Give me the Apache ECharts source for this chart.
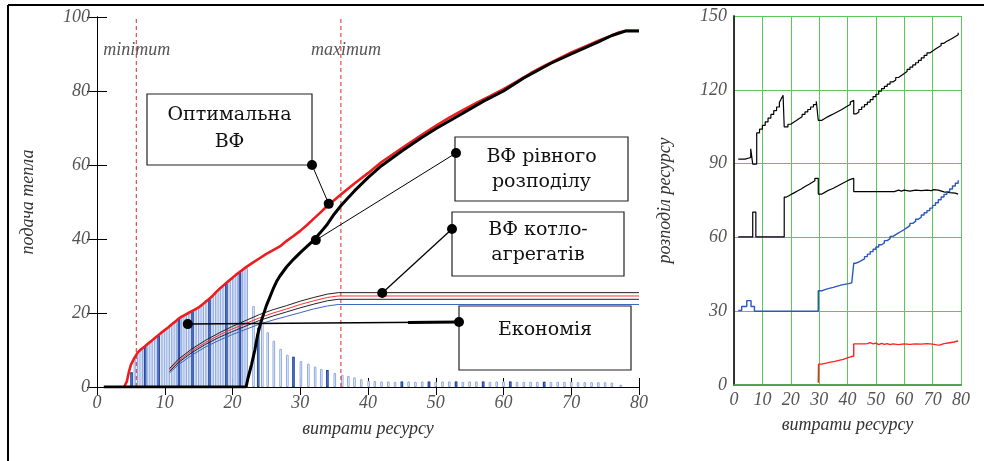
<!DOCTYPE html>
<html>
<head>
<meta charset="utf-8">
<script src="https://cdn.jsdelivr.net/npm/echarts@6.0.0/dist/echarts.min.js"></script>
<style>
html,body{margin:0;padding:0;background:#fff;}
#chart{width:984px;height:461px;}
</style>
</head>
<body>
<div id="chart"></div>
<script>
// ---- left chart: подача тепла vs витрати ресурсу ----
var optimalVF = [[4,0],[4.4,1.5],[4.7,4],[5,6],[5.5,7.8],[6,9.3],[6.5,10.2],[7,10.9],[7.5,11.7],[8,12.4],[8.5,13.2],[9,13.9],[9.5,14.7],[10,15.4],[10.5,16.1],[11,16.9],[11.5,17.6],[12,18.4],[12.5,19],[13,19.5],[13.5,20],[14,20.5],[14.5,21],[15,21.5],[15.5,22.2],[16,23],[16.5,23.7],[17,24.5],[17.5,25.5],[18,26.4],[18.5,27.2],[19,28],[19.5,28.8],[20,29.5],[20.5,30.3],[21,31],[21.5,31.7],[22,32.4],[23,33.6],[24,34.8],[25,36],[26,37],[27,38],[28,39.5],[29,40.8],[30,42.2],[31,43.8],[32,45.5],[33,47.2],[34,49],[35,50.5],[36,52],[37,53.5],[38,55],[40,57.8],[42,60.8],[44,63.3],[46,65.8],[48,68.2],[50,70.6],[52,72.8],[54,74.8],[56,76.8],[58,78.6],[60,80.5],[62,82.6],[64,84.8],[66,86.8],[68,88.6],[70,90.4],[72,92],[74,93.6],[76,95],[77,95.8],[78,96.3],[80,96.3]];
var equalVF = [[1,0],[22,0],[22.3,2.5],[22.8,6],[23.3,10],[23.7,14],[24.2,17.6],[25,22],[26,26.5],[26.5,28.5],[27,30],[28,32.5],[29,34.5],[30,36.3],[31,38],[32,39.7],[33,41.8],[34,44],[35,46.7],[36,49],[37,51],[38,53],[40,56.6],[42,59.8],[45,63.8],[48,67.5],[50,69.8],[54,74],[57,77.2],[60,80],[63,83.5],[67,87.5],[70,90],[74,93.3],[76,95],[78,96.2],[80,96.2]];
var aggBlack1 = [[10.7,5],[12,7.5],[14,10.3],[16,12.6],[18,14.6],[20,16.4],[22,18],[24,19.6],[26,20.9],[28,22],[30,23.2],[32,24.2],[34,25.1],[35.6,25.5],[80,25.5]];
var aggRed = [[10.7,4.6],[12,7],[14,9.8],[16,12],[18,14],[20,15.7],[22,17.2],[24,18.7],[26,20],[28,21.1],[30,22.3],[32,23.3],[34,24.2],[35.6,24.6],[80,24.6]];
var aggBlack2 = [[10.7,4.2],[12,6.6],[14,9.3],[16,11.5],[18,13.4],[20,15],[22,16.5],[24,18],[26,19.2],[28,20.3],[30,21.4],[32,22.4],[34,23.3],[35.6,23.7],[80,23.7]];
var aggBlue = [[10.7,3.8],[12,6],[14,8.6],[16,10.8],[18,12.6],[20,14.2],[22,15.6],[24,17],[26,18.1],[28,19.1],[30,20.1],[32,21.1],[34,21.9],[35.6,22.3],[80,22.3]];
var barsLight = [[5.1,4],[5.6,8],[6.1,9.4],[6.6,10.3],[7.1,11],[7.6,11.8],[8.1,12.5],[8.6,13.3],[9.1,14],[9.6,14.8],[10.1,15.5],[10.6,16.2],[11.1,17],[11.6,17.7],[12.1,18.5],[12.6,19],[13.1,19.5],[13.6,20],[14.1,20.5],[14.6,21],[15.1,21.5],[15.6,22.2],[16.1,23],[16.6,23.7],[17.1,24.5],[17.6,25.5],[18.1,26.4],[18.6,27.2],[19.1,28],[19.6,28.8],[20.1,29.5],[20.6,30.3],[21.1,31],[21.6,31.7],[22.1,32.2],
  [23.1,21.9],[24.4,18],[25.2,14.8],[26.1,12.5],[27.1,10.3],[28.1,8.7],[29,8.2],[30.1,7],[31.2,6.3],[32.2,5.5],[33.1,4.9],[34,4.6],[35.1,3.8],[36.2,3.3],[37.1,3],[38,2.6],[39,2.1],[40.1,1.7],[41,1.6],
  [42,1.5],[43,1.5],[44,1.4],[45,1.5],[46,1.5],[47,1.4],[48,1.5],[49,1.5],[50,1.4],[51,1.5],[52,1.5],[53,1.5],[54,1.4],[55,1.5],[56,1.5],[57,1.5],[58,1.4],[59,1.5],[60,1.5],[61,1.5],[62,1.4],[63,1.4],[64,1.4],[65,1.4],[66,1.4],[67,1.4],[68,1.4],[69,1.4],[70,1.4],[71,1.3],[72,1.3],[73,1.3],[74,1.3],[75,1.3],[76,1.2],[77.3,0.6]];
var barsDark = [[5.1,4],[7.1,11],[9.1,14],[12.1,18.5],[14.1,20.5],[16.6,23.7],[19.1,28],[21.1,31],[23.8,16],[29,8.2],[34,4.6],[45,1.5],[49,1.5],[53,1.5],[57,1.5],[61,1.5],[66,1.4]];
// minimum / maximum markers
var minimumLine = [[5.8,0],[5.8,100]];
var maximumLine = [[36,0],[36,100]];
// label anchors on curves (data coords)
var dotOptimal = [34.2, 49.5];
var dotEqual = [32.3, 39.7];
var dotAgg = [42.1, 25.4];
var dotEconomy = [13.4, 17];

// ---- right chart: розподіл ресурсу ----
var distTop = [[1.5,91.8],[3.9,92.5],[5.9,96],[6.6,89.8],[8,102.5],[9,104],[10,105.5],[11,107],[12,108.5],[13,110],[14,111.5],[15,113],[16,114.8],[16.7,116.5],[17.3,117.8],[17.7,104.9],[19,106],[20,106.8],[21,107.5],[22,108.3],[23,109],[24,110],[25,111],[26,112],[27,113],[28,114],[29,115.3],[29.7,107.6],[31,108.3],[32,109],[33,109.6],[34,110.2],[35,110.8],[36,111.4],[37,112],[38,112.7],[39,113.4],[40,114],[41,115],[41.7,115.7],[42.2,110.2],[43,111],[44,112],[45,113],[46,114],[47,115],[48,116],[49,117.2],[50,118.2],[51,119.5],[52,120.5],[53,121.4],[54,122.3],[55,123.2],[56,124],[57,125],[58,125.8],[59,126.6],[60,127.4],[61,128.3],[62,129.2],[63,130.1],[64,131],[65,132],[66,133],[67,134],[68,135],[69,135.8],[70,136.6],[71,137.3],[72,138],[73,138.9],[74,139.7],[75,140.3],[76,141],[77,141.7],[78,142.4],[79,143.2]];
var distMid = [[1.5,60.2],[6.6,70.3],[7.7,60.2],[17.7,76.4],[18.5,77],[19.5,77.7],[20.5,78.3],[21.5,79],[22.5,79.6],[23.5,80.3],[24.5,81],[25.5,81.6],[26.5,82.3],[27.5,83],[28.5,84],[29.7,77.6],[31,78.3],[32,79],[33,79.5],[34,80],[35,80.6],[36,81.2],[37,81.8],[38,82.4],[39,83],[40,83.6],[41,84],[42.2,78.6],[56.5,78.6],[57.2,79.2],[58,78.8],[59,79.2],[60,79],[61,78.8],[62,79.2],[64,79],[66,79.2],[68,79],[69.5,79.4],[70.5,79.2],[72,78.5],[74,78.2],[76,78],[78,77.6],[79,77.6]];
var distBlue = [[1.5,30.3],[2.7,31.9],[4.5,34.3],[6,31.9],[7.2,30],[29.7,38.3],[31,38.8],[32,39.3],[33.5,39.7],[35,40.2],[36.5,40.7],[38,41],[39.5,41.2],[40.5,41.5],[41.5,42],[42.2,49.5],[43,50],[44,50.7],[45,51.3],[46,52.2],[47,53.2],[48,54.2],[49,55.2],[50,56.1],[51,57],[52,57.8],[53,58.7],[54,59.5],[55,60.4],[56,61.1],[57,61.8],[58,62.5],[59,63.2],[60,64],[61,64.8],[62,65.7],[63,66.5],[64,67.4],[65,68.2],[66,69.1],[67,70],[68,70.9],[69,71.9],[70,73],[71,74.1],[72,75.3],[73,76.4],[74,77.5],[75,78.6],[76,79.7],[77,80.9],[78,82],[79,83.2]];
var distRed = [[29.7,0.9],[29.8,8.5],[31,8.9],[32.5,9.3],[34,9.6],[35.5,10],[37,10.4],[38.5,11],[40,11.5],[41.3,11.8],[42.2,16.7],[46,16.8],[47,17.2],[48,16.7],[49,17],[50,16.4],[51,16.9],[52,16.5],[53,16.8],[54,16.4],[55,16.7],[56,16.4],[58,16.7],[60,16.5],[62,16.7],[64,16.6],[66,16.8],[68,16.6],[70,16.3],[71.5,16.2],[72.5,16.8],[74,17.2],[76,17.5],[77.5,17.9],[79,17.7]];

var labelFont = {fontFamily: 'Liberation Serif', fontStyle: 'italic', fontSize: 18, color: '#555'};
var nameFont = {fontFamily: 'Liberation Serif', fontStyle: 'italic', fontSize: 18, color: '#333'};
var green = '#5cc85c';

var chartDom = document.getElementById('chart');
var myChart = echarts.init(chartDom);

function lineSeries(data, color, width, xi, yi, step){
  return {type: 'line', data: data, xAxisIndex: xi, yAxisIndex: yi, showSymbol: false, symbol: 'none',
    step: step || false, lineStyle: {color: color, width: width}, z: 3, silent: true};
}
function dashSeries(data){
  return {type: 'line', data: data, xAxisIndex: 0, yAxisIndex: 0, showSymbol: false, symbol: 'none', z: 2, silent: true,
    lineStyle: {color: '#e02828', width: 1, type: [4, 3]}};
}

option = {
  animation: false,
  backgroundColor: '#fff',
  grid: [
    {left: 97, top: 17, width: 542, height: 370},
    {left: 734, top: 16, width: 227, height: 369}
  ],
  xAxis: [
    {gridIndex: 0, type: 'value', min: 0, max: 80, interval: 10, position: 'bottom',
      axisLine: {lineStyle: {color: '#000', width: 1}}, axisTick: {inside: true, length: 9, lineStyle: {color: '#000'}},
      axisLabel: Object.assign({margin: 7}, labelFont), splitLine: {show: false},
      name: 'витрати ресурсу', nameLocation: 'middle', nameGap: 33, nameTextStyle: nameFont},
    {gridIndex: 0, type: 'value', min: 0, max: 80, interval: 10, position: 'top',
      axisLine: {lineStyle: {color: '#000', width: 1}}, axisTick: {inside: true, length: 8, lineStyle: {color: '#000'}},
      axisLabel: {show: false}, splitLine: {show: false}},
    {gridIndex: 1, type: 'value', min: 0, max: 80, interval: 10, position: 'bottom',
      axisLine: {lineStyle: {color: '#000', width: 1.5}}, axisTick: {show: false},
      axisLabel: Object.assign({margin: 6}, labelFont), splitLine: {show: true, lineStyle: {color: green, width: 1}},
      name: 'витрати ресурсу', nameLocation: 'middle', nameGap: 31, nameTextStyle: nameFont},
    {gridIndex: 1, type: 'value', min: 0, max: 80, interval: 10, position: 'top',
      axisLine: {lineStyle: {color: green, width: 1.5}}, axisTick: {show: false},
      axisLabel: {show: false}, splitLine: {show: false}}
  ],
  yAxis: [
    {gridIndex: 0, type: 'value', min: 0, max: 100, interval: 20, position: 'left',
      axisLine: {show: true, lineStyle: {color: '#000', width: 1}}, axisTick: {show: true, inside: true, length: 10, lineStyle: {color: '#000'}},
      axisLabel: Object.assign({margin: 7}, labelFont), splitLine: {show: false},
      name: 'подача тепла', nameLocation: 'middle', nameGap: 60, nameTextStyle: nameFont},
    {gridIndex: 0, type: 'value', min: 0, max: 100, interval: 20, position: 'right',
      axisLine: {show: true, lineStyle: {color: '#000', width: 1}}, axisTick: {show: true, inside: true, length: 10, lineStyle: {color: '#000'}},
      axisLabel: {show: false}, splitLine: {show: false}},
    {gridIndex: 1, type: 'value', min: 0, max: 150, interval: 30, position: 'left',
      axisLine: {show: true, lineStyle: {color: '#000', width: 1.5}}, axisTick: {show: false},
      axisLabel: Object.assign({margin: 7}, labelFont), splitLine: {show: true, lineStyle: {color: green, width: 1}},
      name: 'розподіл ресурсу', nameLocation: 'middle', nameGap: 60, nameTextStyle: nameFont},
    {gridIndex: 1, type: 'value', min: 0, max: 150, interval: 30, position: 'right',
      axisLine: {show: true, lineStyle: {color: '#333', width: 1.5}}, axisTick: {show: false},
      axisLabel: {show: false}, splitLine: {show: false}}
  ],
  series: [
    {type: 'bar', xAxisIndex: 0, yAxisIndex: 0, data: barsLight, barWidth: 2.6, barGap: '-100%', z: 1, silent: true,
      itemStyle: {color: '#ffffff', borderColor: '#8ea9e0', borderWidth: 1}},
    {type: 'bar', xAxisIndex: 0, yAxisIndex: 0, data: barsDark, barWidth: 2.6, barGap: '-100%', z: 2, silent: true,
      itemStyle: {color: '#ffffff', borderColor: '#2149a8', borderWidth: 1.2}},
    lineSeries(aggBlue, '#3d63c2', 1, 0, 0),
    lineSeries(aggBlack2, '#222', 1, 0, 0),
    lineSeries(aggRed, '#ff3030', 1, 0, 0),
    lineSeries(aggBlack1, '#222', 1, 0, 0),
    lineSeries(optimalVF, '#ee1c1c', 2.6, 0, 0),
    lineSeries(equalVF, '#000', 3, 0, 0),
    dashSeries(minimumLine),
    dashSeries(maximumLine),
    // right chart
    lineSeries(distTop, '#000', 1.2, 2, 2, 'end'),
    lineSeries(distMid, '#000', 1.2, 2, 2, 'end'),
    lineSeries(distBlue, '#2a57c0', 1.4, 2, 2, 'end'),
    lineSeries(distRed, '#ff2020', 1.4, 2, 2, 'end')
  ]
};
option && myChart.setOption(option);

// annotations: boxes with leader lines
function px(p){ return myChart.convertToPixel({seriesIndex: 6}, p); }
function seg(x1, y1, x2, y2, w){
  return {type: 'line', shape: {x1: x1, y1: y1, x2: x2, y2: y2}, style: {stroke: '#000', lineWidth: w}, silent: true, z: 100};
}
function dot(x, y, r){
  return {type: 'circle', shape: {cx: x, cy: y, r: r}, style: {fill: '#000'}, silent: true, z: 102};
}
function box(x, y, w, h, text, cy, lh){
  return [
    {type: 'rect', shape: {x: x, y: y, width: w, height: h}, style: {fill: '#fff', stroke: '#222', lineWidth: 1.2}, silent: true, z: 101},
    {type: 'text', x: x + w / 2, y: cy, style: {text: text, align: 'center', verticalAlign: 'middle',
      fontFamily: 'DejaVu Serif', fontSize: 19, lineHeight: lh, fill: '#111'}, silent: true, z: 103}
  ];
}
function tag(text, x, y){
  return {type: 'text', x: x, y: y, style: {text: text, align: 'left', verticalAlign: 'middle',
    fontFamily: 'Liberation Serif', fontStyle: 'italic', fontSize: 18, fill: '#555'}, silent: true, z: 100};
}

var pOpt = px(dotOptimal), pEq = px(dotEqual), pAgg = px(dotAgg), pEc = px(dotEconomy);
var pMin = px(minimumLine[0]), pMax = px(maximumLine[0]);
var g = [];
// outer frame (top and left)
g.push(seg(8, 5, 984, 5, 2));
g.push(seg(8, 5, 8, 461, 2));
g.push(tag('minimum', pMin[0] - 33, 50));
g.push(tag('maximum', pMax[0] - 30, 50));
// Оптимальна ВФ
g.push(seg(312, 165, pOpt[0], pOpt[1], 1));
g = g.concat(box(147, 94, 165, 71, 'Оптимальна\nВФ', 129, 27));
g.push(dot(312, 165, 5), dot(pOpt[0], pOpt[1], 5));
// ВФ рівного розподілу
g.push(seg(456, 153, pEq[0], pEq[1], 1));
g = g.concat(box(455, 137, 173, 64, 'ВФ рівного\nрозподілу', 170, 25));
g.push(dot(456, 153, 5), dot(pEq[0], pEq[1], 5));
// ВФ котлоагрегатів
g.push(seg(452, 229, pAgg[0], pAgg[1], 1.3));
g = g.concat(box(452, 212, 172, 64, 'ВФ котло-\nагрегатів', 243, 25));
g.push(dot(452, 229, 5), dot(pAgg[0], pAgg[1], 5));
// Економія
g.push(seg(pEc[0], pEc[1], 459, 322, 1.5));
g.push(seg(408, 322.5, 459, 322, 3));
g = g.concat(box(459, 306, 172, 64, 'Економія', 330, 25));
g.push(dot(459, 322, 5), dot(pEc[0], pEc[1], 5));

myChart.setOption({graphic: g});
</script>
</body>
</html>
